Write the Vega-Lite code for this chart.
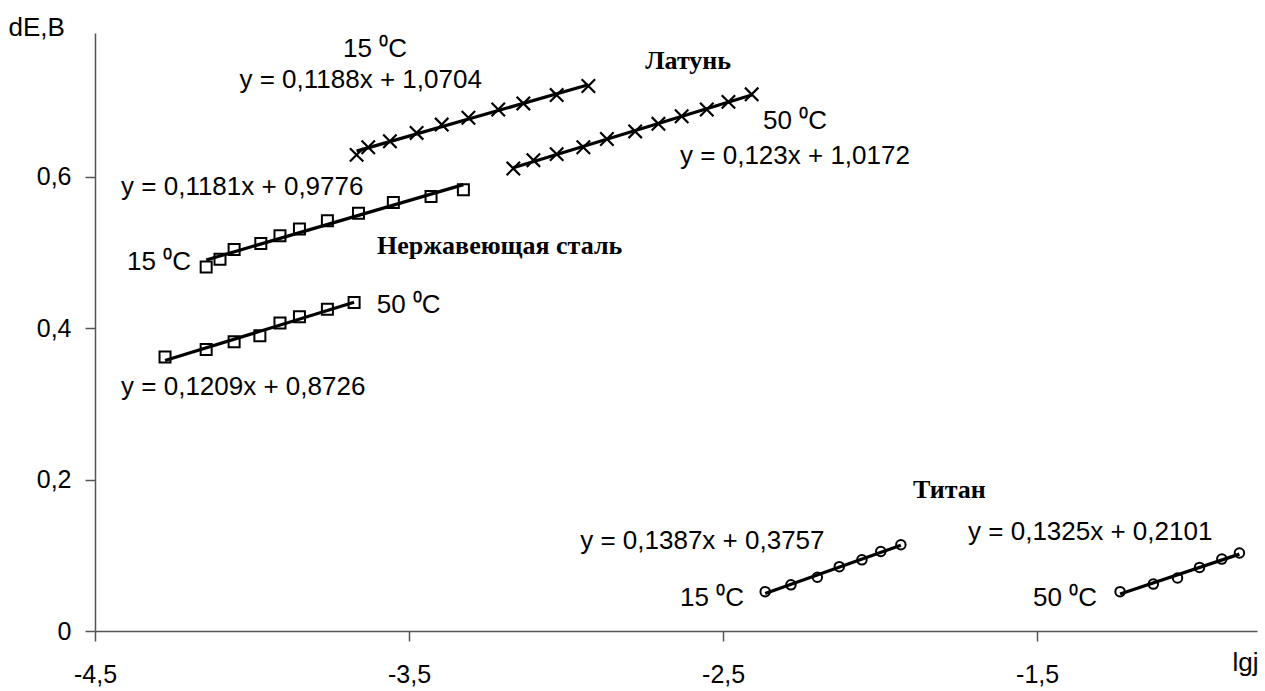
{
  "$schema": "https://vega.github.io/schema/vega-lite/v6.json",
  "width": 1162,
  "height": 598,
  "autosize": {"type": "none"},
  "padding": {"left": 95, "top": 33, "right": 8, "bottom": 60},
  "background": "white",
  "config": {"view": {"stroke": null}, "font": "Liberation Sans"},
  "datasets": {
    "pts": [
      {"m": "Латунь", "t": 15, "x": -3.667, "y": 0.629},
      {"m": "Латунь", "t": 15, "x": -3.630, "y": 0.639},
      {"m": "Латунь", "t": 15, "x": -3.561, "y": 0.647},
      {"m": "Латунь", "t": 15, "x": -3.476, "y": 0.658},
      {"m": "Латунь", "t": 15, "x": -3.396, "y": 0.669},
      {"m": "Латунь", "t": 15, "x": -3.311, "y": 0.678},
      {"m": "Латунь", "t": 15, "x": -3.216, "y": 0.689},
      {"m": "Латунь", "t": 15, "x": -3.136, "y": 0.697},
      {"m": "Латунь", "t": 15, "x": -3.030, "y": 0.708},
      {"m": "Латунь", "t": 15, "x": -2.929, "y": 0.720},
      {"m": "Латунь", "t": 50, "x": -3.168, "y": 0.611},
      {"m": "Латунь", "t": 50, "x": -3.104, "y": 0.622},
      {"m": "Латунь", "t": 50, "x": -3.030, "y": 0.630},
      {"m": "Латунь", "t": 50, "x": -2.945, "y": 0.639},
      {"m": "Латунь", "t": 50, "x": -2.870, "y": 0.650},
      {"m": "Латунь", "t": 50, "x": -2.780, "y": 0.660},
      {"m": "Латунь", "t": 50, "x": -2.706, "y": 0.670},
      {"m": "Латунь", "t": 50, "x": -2.632, "y": 0.680},
      {"m": "Латунь", "t": 50, "x": -2.552, "y": 0.689},
      {"m": "Латунь", "t": 50, "x": -2.483, "y": 0.699},
      {"m": "Латунь", "t": 50, "x": -2.409, "y": 0.709},
      {"m": "Нержавеющая сталь", "t": 15, "x": -4.146, "y": 0.481},
      {"m": "Нержавеющая сталь", "t": 15, "x": -4.102, "y": 0.491},
      {"m": "Нержавеющая сталь", "t": 15, "x": -4.057, "y": 0.504},
      {"m": "Нержавеющая сталь", "t": 15, "x": -3.972, "y": 0.512},
      {"m": "Нержавеющая сталь", "t": 15, "x": -3.911, "y": 0.522},
      {"m": "Нержавеющая сталь", "t": 15, "x": -3.849, "y": 0.531},
      {"m": "Нержавеющая сталь", "t": 15, "x": -3.760, "y": 0.542},
      {"m": "Нержавеющая сталь", "t": 15, "x": -3.661, "y": 0.552},
      {"m": "Нержавеющая сталь", "t": 15, "x": -3.550, "y": 0.566},
      {"m": "Нержавеющая сталь", "t": 15, "x": -3.430, "y": 0.574},
      {"m": "Нержавеющая сталь", "t": 15, "x": -3.327, "y": 0.583},
      {"m": "Нержавеющая сталь", "t": 50, "x": -4.277, "y": 0.362},
      {"m": "Нержавеющая сталь", "t": 50, "x": -4.146, "y": 0.372},
      {"m": "Нержавеющая сталь", "t": 50, "x": -4.057, "y": 0.382},
      {"m": "Нержавеющая сталь", "t": 50, "x": -3.975, "y": 0.390},
      {"m": "Нержавеющая сталь", "t": 50, "x": -3.911, "y": 0.407},
      {"m": "Нержавеющая сталь", "t": 50, "x": -3.849, "y": 0.415},
      {"m": "Нержавеющая сталь", "t": 50, "x": -3.760, "y": 0.425},
      {"m": "Нержавеющая сталь", "t": 50, "x": -3.675, "y": 0.434},
      {"m": "Титан", "t": 15, "x": -2.366, "y": 0.052},
      {"m": "Титан", "t": 15, "x": -2.284, "y": 0.061},
      {"m": "Титан", "t": 15, "x": -2.200, "y": 0.071},
      {"m": "Титан", "t": 15, "x": -2.130, "y": 0.085},
      {"m": "Титан", "t": 15, "x": -2.058, "y": 0.094},
      {"m": "Титан", "t": 15, "x": -1.998, "y": 0.105},
      {"m": "Титан", "t": 15, "x": -1.934, "y": 0.114},
      {"m": "Титан", "t": 50, "x": -1.236, "y": 0.052},
      {"m": "Титан", "t": 50, "x": -1.130, "y": 0.062},
      {"m": "Титан", "t": 50, "x": -1.053, "y": 0.070},
      {"m": "Титан", "t": 50, "x": -0.983, "y": 0.084},
      {"m": "Титан", "t": 50, "x": -0.912, "y": 0.095},
      {"m": "Титан", "t": 50, "x": -0.856, "y": 0.103}
    ],
    "labels": [
      {"label": "15 ⁰C", "x": -3.710, "y": 0.769},
      {"label": "y = 0,1188x + 1,0704", "x": -4.040, "y": 0.7275},
      {"label": "50 ⁰C", "x": -2.373, "y": 0.674},
      {"label": "y = 0,123x + 1,0172", "x": -2.637, "y": 0.628},
      {"label": "y = 0,1181x + 0,9776", "x": -4.417, "y": 0.587},
      {"label": "15 ⁰C", "x": -4.398, "y": 0.488},
      {"label": "50 ⁰C", "x": -3.603, "y": 0.431},
      {"label": "y = 0,1209x + 0,8726", "x": -4.417, "y": 0.3225},
      {"label": "y = 0,1387x + 0,3757", "x": -2.955, "y": 0.119},
      {"label": "y = 0,1325x + 0,2101", "x": -1.720, "y": 0.131},
      {"label": "15 ⁰C", "x": -2.637, "y": 0.0436},
      {"label": "50 ⁰C", "x": -1.513, "y": 0.0436}
    ],
    "titles": [
      {"label": "Латунь", "x": -2.748, "y": 0.753},
      {"label": "Нержавеющая сталь", "x": -3.602, "y": 0.509},
      {"label": "Титан", "x": -1.895, "y": 0.186}
    ]
  },
  "encoding": {
    "x": {
      "field": "x", "type": "quantitative",
      "scale": {"domain": [-4.5, -0.8], "nice": false, "zero": false},
      "axis": {
        "title": "lgj", "titleFontSize": 26, "titleFontWeight": "normal", "titleFont": "Liberation Sans", "titleColor": "black",
        "titleAlign": "right", "titleBaseline": "alphabetic", "titleX": 1163, "titleY": 39, "titleAnchor": null,
        "values": [-4.5, -3.5, -2.5, -1.5],
        "labelExpr": "replace(replace(format(datum.value, '.1f'), '.', ','), '−', '-')",
        "labelFlush": false,
        "labelFontSize": 25, "labelColor": "black", "labelFont": "Liberation Sans", "labelPadding": 21,
        "grid": false, "domainColor": "#555555", "domainWidth": 1.5, "tickColor": "#555555", "tickWidth": 1.5, "tickSize": 10
      }
    },
    "y": {
      "field": "y", "type": "quantitative",
      "scale": {"domain": [0, 0.79], "nice": false, "zero": false},
      "axis": {
        "title": "dE,B", "titleFontSize": 26, "titleFontWeight": "normal", "titleFont": "Liberation Sans", "titleColor": "black",
        "titleAngle": 0, "titleAlign": "left", "titleBaseline": "alphabetic", "titleX": -87, "titleY": 2, "titleAnchor": null,
        "values": [0, 0.2, 0.4, 0.6],
        "labelExpr": "datum.value == 0 ? '0' : replace(format(datum.value, '.1f'), '.', ',')",
        "labelFlush": false,
        "labelFontSize": 25, "labelColor": "black", "labelFont": "Liberation Sans", "labelPadding": 14,
        "grid": false, "domainColor": "#555555", "domainWidth": 1.5, "tickColor": "#555555", "tickWidth": 1.5, "tickSize": 10
      }
    }
  },
  "layer": [
    {
      "data": {"name": "pts"},
      "transform": [{"regression": "y", "on": "x", "groupby": ["m", "t"]}],
      "mark": {"type": "line", "color": "black", "strokeWidth": 3.2},
      "encoding": {"detail": [{"field": "m", "type": "nominal"}, {"field": "t", "type": "nominal"}]}
    },
    {
      "data": {"name": "pts"},
      "transform": [{"filter": "datum.m == 'Латунь'"}],
      "mark": {"type": "point", "shape": "M-1,-1L1,1M1,-1L-1,1", "size": 180, "filled": false, "stroke": "black", "strokeWidth": 2.2, "opacity": 1}
    },
    {
      "data": {"name": "pts"},
      "transform": [{"filter": "datum.m == 'Нержавеющая сталь'"}],
      "mark": {"type": "point", "shape": "square", "size": 121, "filled": false, "stroke": "black", "strokeWidth": 2, "opacity": 1}
    },
    {
      "data": {"name": "pts"},
      "transform": [{"filter": "datum.m == 'Титан'"}],
      "mark": {"type": "point", "shape": "circle", "size": 90, "filled": false, "stroke": "black", "strokeWidth": 2, "opacity": 1}
    },
    {
      "data": {"name": "labels"},
      "mark": {"type": "text", "align": "left", "baseline": "middle", "fontSize": 26, "font": "Liberation Sans", "color": "black"},
      "encoding": {"text": {"field": "label", "type": "nominal"}}
    },
    {
      "data": {"name": "titles"},
      "mark": {"type": "text", "align": "left", "baseline": "middle", "fontSize": 26, "font": "Liberation Serif", "fontWeight": "bold", "color": "black"},
      "encoding": {"text": {"field": "label", "type": "nominal"}}
    }
  ]
}
